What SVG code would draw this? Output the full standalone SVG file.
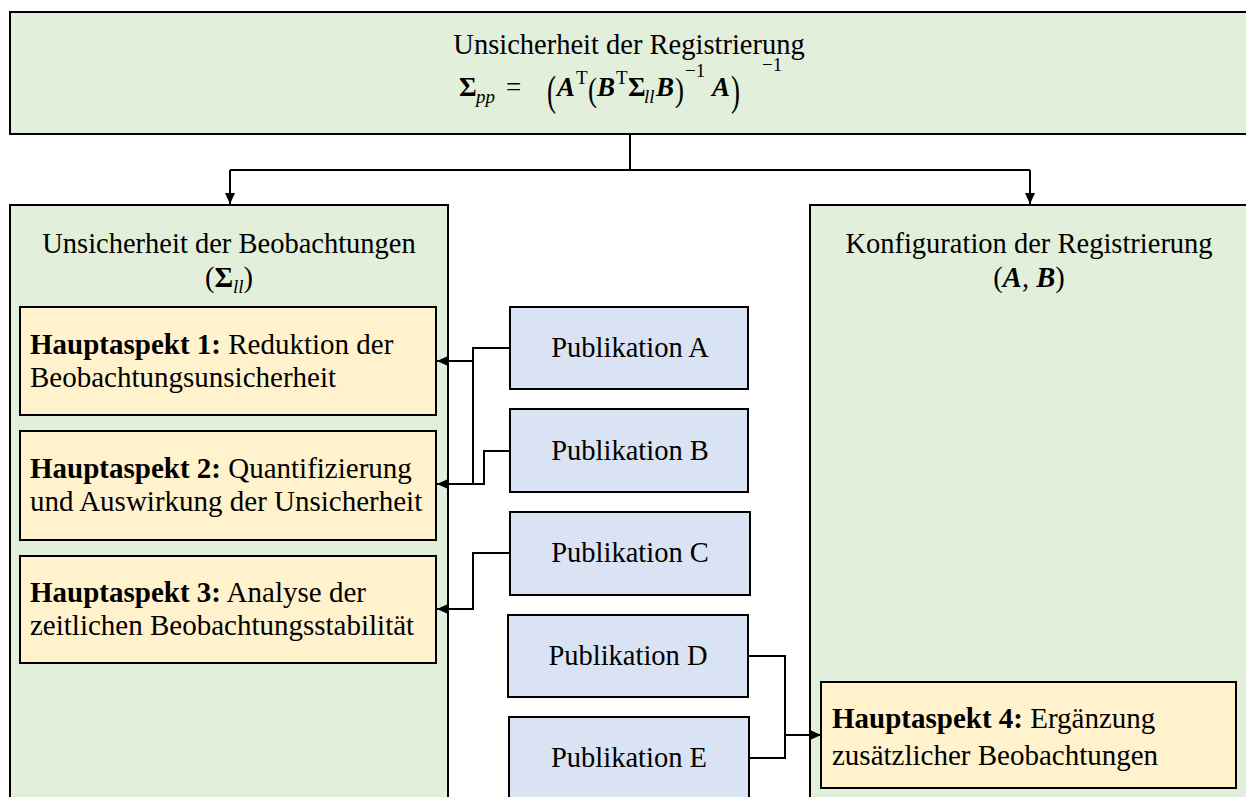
<svg xmlns="http://www.w3.org/2000/svg" width="1246" height="797" viewBox="0 0 1246 797">
<defs>
<style>
.green{fill:#E2EFDA;stroke:#000;stroke-width:2}
.yellow{fill:#FFF2CC;stroke:#000;stroke-width:2}
.blue{fill:#DAE3F3;stroke:#000;stroke-width:2}
text{font-family:"Liberation Serif","Times New Roman",serif;font-size:28.5px;fill:#000}
.c{text-anchor:middle}
.b{font-weight:bold}
.bi{font-weight:bold;font-style:italic}
.f{font-size:27px}
.h{font-size:29px}
.sub{font-size:19px;font-style:italic}
.sup{font-size:19px}
.line{fill:none;stroke:#000;stroke-width:2}
</style>
<marker id="arr" markerUnits="userSpaceOnUse" markerWidth="11" markerHeight="10" refX="11" refY="5" orient="auto">
<path d="M0,0 L11,5 L0,10 z" fill="#000"/>
</marker>
</defs>
<rect width="1246" height="797" fill="#fff"/>

<g id="top">
<rect class="green" x="10" y="12" width="1250" height="122"/>
<text class="c" x="629" y="54">Unsicherheit der Registrierung</text>
<text class="b f" x="459" y="96">Σ</text>
<text class="sub" x="476" y="103">pp</text>
<text class="f" x="506" y="96">=</text>
<text class="f" transform="translate(547,105) scale(1,1.6)">(</text>
<text class="bi f" x="557" y="96">A</text>
<text class="sup" x="576" y="84">T</text>
<text class="f" transform="translate(588,101) scale(1,1.25)">(</text>
<text class="bi f" x="597" y="96">B</text>
<text class="sup" x="616" y="84">T</text>
<text class="b f" x="628" y="96">Σ</text>
<text class="sub" x="644" y="103">ll</text>
<text class="bi f" x="656" y="96">B</text>
<text class="f" transform="translate(675,101) scale(1,1.25)">)</text>
<text class="sup" x="685" y="77">−1</text>
<text class="bi f" x="712" y="96">A</text>
<text class="f" transform="translate(731,105) scale(1,1.6)">)</text>
<text class="sup" x="762" y="71">−1</text>
</g>

<g id="left">
<rect class="green" x="10" y="205" width="438" height="600"/>
<text class="c" x="229" y="253">Unsicherheit der Beobachtungen</text>
<text class="c" x="229" y="287">(<tspan class="b">Σ</tspan><tspan class="sub" dy="6">ll</tspan><tspan dy="-6">)</tspan></text>
</g>

<g id="right">
<rect class="green" x="810" y="205" width="450" height="600"/>
<text class="c" x="1029" y="253">Konfiguration der Registrierung</text>
<text class="c" x="1029" y="287">(<tspan class="bi">A</tspan>, <tspan class="bi">B</tspan>)</text>
</g>

<g id="h1">
<rect class="yellow" x="20" y="307" width="416" height="108"/>
<text class="h" x="30" y="354"><tspan class="b">Hauptaspekt 1:</tspan> Reduktion der</text>
<text class="h" x="30" y="387">Beobachtungsunsicherheit</text>
</g>
<g id="h2">
<rect class="yellow" x="20" y="431" width="416" height="109"/>
<text class="h" x="30" y="478"><tspan class="b">Hauptaspekt 2:</tspan> Quantifizierung</text>
<text class="h" x="30" y="511">und Auswirkung der Unsicherheit</text>
</g>
<g id="h3">
<rect class="yellow" x="20" y="556" width="416" height="107"/>
<text class="h" x="30" y="602"><tspan class="b">Hauptaspekt 3:</tspan> Analyse der</text>
<text class="h" x="30" y="635">zeitlichen Beobachtungsstabilität</text>
</g>
<g id="h4">
<rect class="yellow" x="821" y="682" width="415" height="106"/>
<text class="h" x="832" y="728"><tspan class="b">Hauptaspekt 4:</tspan> Ergänzung</text>
<text class="h" x="832" y="765">zusätzlicher Beobachtungen</text>
</g>

<g id="pubA">
<rect class="blue" x="510" y="307" width="238" height="82"/>
<text class="c" x="630" y="357">Publikation A</text>
</g>
<g id="pubB">
<rect class="blue" x="510" y="409" width="238" height="83"/>
<text class="c" x="630" y="460">Publikation B</text>
</g>
<g id="pubC">
<rect class="blue" x="510" y="512" width="240" height="83"/>
<text class="c" x="630" y="562">Publikation C</text>
</g>
<g id="pubD">
<rect class="blue" x="508" y="615" width="240" height="82"/>
<text class="c" x="628" y="665">Publikation D</text>
</g>
<g id="pubE">
<rect class="blue" x="509" y="717" width="240" height="90"/>
<text class="c" x="629" y="767">Publikation E</text>
</g>

<g id="connectors">
<path class="line" d="M630,134 V170 M230,170 H1030"/>
<path class="line" d="M230,170 V204" marker-end="url(#arr)"/>
<path class="line" d="M1030,170 V204" marker-end="url(#arr)"/>
<path class="line" d="M510,348 H473 V361 H437" marker-end="url(#arr)"/>
<path class="line" d="M473,361 V484 H437" marker-end="url(#arr)"/>
<path class="line" d="M510,451 H484 V484 H473"/>
<path class="line" d="M510,553 H473 V609 H437" marker-end="url(#arr)"/>
<path class="line" d="M748,656 H785 V758 H749"/>
<path class="line" d="M785,735 H821" marker-end="url(#arr)"/>
</g>
</svg>
